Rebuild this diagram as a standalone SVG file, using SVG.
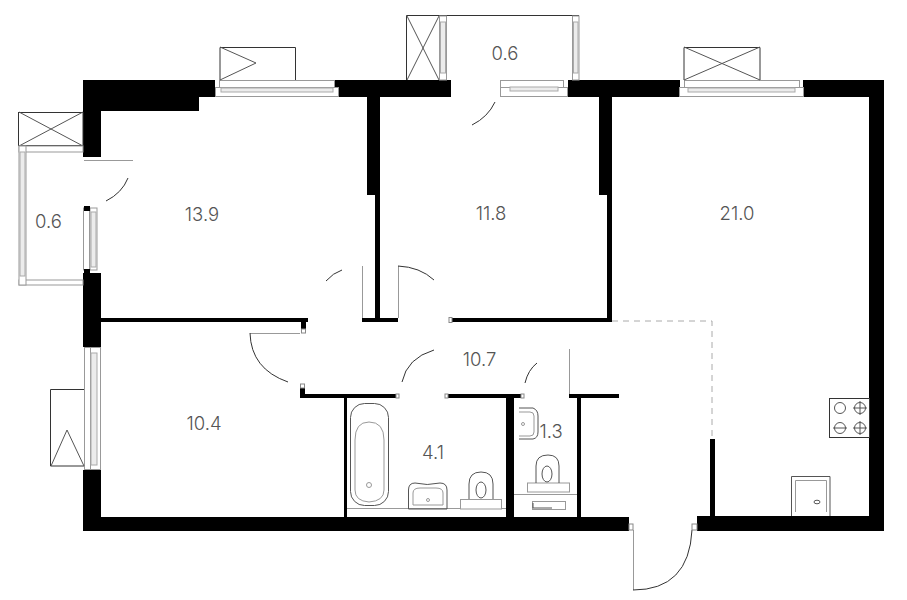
<svg xmlns="http://www.w3.org/2000/svg" width="907" height="600" viewBox="0 0 907 600">
<style>
.w{fill:#000}
.t{font-family:Inter,"Liberation Sans",sans-serif;font-size:18.500px;font-weight:300;fill:#555;text-anchor:middle}
.l{fill:none;stroke:#333;stroke-width:1}
.g{fill:none;stroke:#999;stroke-width:1}
.k{fill:none;stroke:#555;stroke-width:1}
.f{fill:#fff;stroke:#999;stroke-width:1}
.a{fill:none;stroke:#333;stroke-width:1}
.s{fill:#fff;stroke:#888;stroke-width:1}
.h{fill:#ececec;stroke:#aaa;stroke-width:1}
</style>
<rect width="907" height="600" fill="#fff"/>
<g id="walls">
<rect class="w" x="83" y="80" width="132" height="17"/>
<rect class="w" x="334" y="80" width="117" height="17"/>
<rect class="w" x="568" y="80" width="112" height="17"/>
<rect class="w" x="803" y="80" width="81" height="17"/>
<rect class="w" x="869" y="80" width="15" height="450"/>
<rect class="w" x="83" y="80" width="18" height="77"/>
<rect class="w" x="101" y="97" width="98" height="14"/>
<rect class="w" x="83" y="273" width="18" height="74"/>
<rect class="w" x="83" y="470" width="18" height="60"/>
<rect class="w" x="83" y="517" width="546" height="14"/>
<rect class="w" x="697" y="516" width="187" height="15"/>
<rect class="w" x="367" y="97" width="13" height="98"/>
<rect class="w" x="375" y="195" width="5" height="125"/>
<rect class="w" x="599" y="97" width="13" height="98"/>
<rect class="w" x="607" y="195" width="5" height="125"/>
<rect class="w" x="101" y="318" width="207" height="4"/>
<rect class="w" x="301" y="320" width="5" height="10"/>
<rect class="w" x="362" y="318" width="36" height="4"/>
<rect class="w" x="449" y="318" width="163" height="4"/>
<rect class="w" x="300" y="388" width="5" height="10"/>
<rect class="w" x="300" y="394" width="98" height="4"/>
<rect class="w" x="445" y="394" width="78" height="4"/>
<rect class="w" x="569" y="394" width="50" height="4"/>
<rect class="w" x="344" y="398" width="3" height="119"/>
<rect class="w" x="506" y="398" width="8" height="119"/>
<rect class="w" x="577" y="398" width="4" height="119"/>
<rect class="w" x="710" y="439" width="5" height="77"/>
<path d="M612 321H712V439" fill="none" stroke="#aaa" stroke-width="1" stroke-dasharray="6 5"/>
</g>
<g id="windows">
<rect class="f" x="219.500" y="80.500" width="115" height="7"/>
<rect class="f" x="215.500" y="87.500" width="123" height="9"/>
<rect class="h" x="221" y="88" width="112" height="4"/>
<rect class="f" x="500.500" y="80.500" width="63" height="7"/>
<rect class="f" x="500.500" y="87.500" width="67" height="9"/>
<rect class="h" x="510" y="87" width="48" height="4"/>
<rect class="f" x="684.500" y="80.500" width="115" height="7"/>
<rect class="f" x="679.500" y="87.500" width="124" height="9"/>
<rect class="h" x="688" y="88" width="107" height="4"/>
<rect class="f" x="83.500" y="208" width="6" height="62"/>
<rect class="f" x="90" y="208" width="7" height="62"/>
<rect class="h" x="91" y="212" width="5" height="55"/>
<rect class="w" x="84" y="206" width="6" height="5"/>
<rect class="w" x="84" y="269" width="6" height="4"/>
<rect class="f" x="84.500" y="347.500" width="6" height="122"/>
<rect class="f" x="90.500" y="347.500" width="10" height="122"/>
<rect class="h" x="91" y="353" width="6" height="112"/>
</g>
<g id="balcony-left">
<rect class="l" x="18.500" y="112.500" width="64.500" height="33"/>
<path class="k" d="M19 112L83 146M83 112L19 146"/>
<rect class="f" x="19" y="146" width="64" height="6"/>
<rect class="f" x="19" y="280" width="64" height="5"/>
<rect class="f" x="19" y="146" width="7" height="139"/>
<rect class="h" x="20" y="152" width="5" height="124"/>
<text class="t" x="48.500" y="228">0.6</text>
</g>
<g id="balcony-top">
<path class="l" d="M406.500 80V15.500H579M439.500 16V80"/>
<path class="k" d="M407 16L439 80M439 16L407 80"/>
<rect class="f" x="439.500" y="16" width="7" height="64"/>
<rect class="h" x="440.500" y="22" width="5" height="51"/>
<rect class="f" x="572.500" y="16" width="6.500" height="64"/>
<rect class="h" x="573.500" y="22" width="4.500" height="51"/>
<text class="t" x="505" y="60">0.6</text>
</g>
<g id="box-a">
<path class="l" d="M220 80V47.500H295.500V80"/>
<path class="k" d="M220 47L256 63L220 80"/>
</g>
<g id="box-b">
<path class="l" d="M684 80V47.500H760V80"/>
<path class="k" d="M684 47L760 80M760 47L684 80"/>
</g>
<g id="box-c">
<path class="l" d="M84 389.500H50.500V466H84"/>
<path class="k" d="M51 466L67 430L84 466"/>
</g>
<g id="doors">
<path class="g" d="M84 160.500H133"/>
<path class="a" d="M128 178Q122 193 106 201"/>
<path class="a" d="M495 102Q488 117 472 125"/>
<path class="g" d="M362.500 266V318M398.500 266V318"/>
<path class="a" d="M398 266Q420 267 434 280"/>
<path class="a" d="M326 281Q333 273 342 270"/>
<path class="g" d="M250 333.500H300"/>
<path class="a" d="M250 333Q251 369 288 382"/>
<path class="a" d="M402 382Q407 358 434 350"/>
<path class="a" d="M525 383Q528 370 537 363"/>
<path class="g" d="M569.500 349V394"/>
<path class="g" d="M633.500 530V590"/>
<path class="a" d="M633 590Q689 590 692 530"/>
<rect class="s" x="629" y="524" width="4" height="6"/>
<rect class="s" x="692" y="524" width="5" height="6"/>
<rect class="s" x="301.500" y="329" width="4" height="4"/>
<rect class="s" x="300.500" y="384" width="4" height="4"/>
<rect class="s" x="449" y="317.500" width="3" height="5"/>
<rect class="s" x="396" y="394" width="3" height="4"/>
<rect class="s" x="445" y="394" width="3" height="4"/>
<rect class="s" x="521" y="394" width="3" height="4"/>
</g>
<g id="bathroom">
<rect class="k" x="350.500" y="403.500" width="38" height="102" rx="14"/>
<path class="g" d="M355 490V440Q355 422 369 422Q384 422 384 440V490Q384 501 369 502Q355 501 355 490Z"/>
<circle class="g" cx="369" cy="485" r="2.500"/>
<path class="g" d="M347 508.500H506"/>
<path class="k" d="M408.500 509V490Q408.500 483 415 483Q427 486 440 483Q447 483 447 490V509Z"/>
<path class="g" d="M413 505V493Q413 488 420 488H436Q443 488 443 493V505Z"/>
<circle class="g" cx="428" cy="500" r="1.500"/>
<rect class="f" x="460.500" y="499.500" width="41" height="9.500"/>
<path class="k" d="M469 499V484Q469 472 481 472Q493 472 493 484V499"/>
<ellipse class="k" cx="481" cy="490" rx="5" ry="8"/>
<text class="t" x="433" y="459">4.1</text>
</g>
<g id="wc">
<path class="k" d="M519 408H533Q538 410 538 416V432Q538 438 533 439H519"/>
<path class="g" d="M519 412H530Q534 412 534 416V432Q534 436 530 436H519"/>
<circle class="g" cx="523" cy="424" r="1.500"/>
<rect class="f" x="527.500" y="483" width="42" height="9"/>
<path class="k" d="M536 483V466Q536 455 548 455Q559 455 559 466V483"/>
<ellipse class="k" cx="547" cy="474" rx="5" ry="8"/>
<path class="g" d="M514 494.500H577"/>
<rect class="f" x="532.500" y="501.500" width="33" height="8"/>
<path class="k" d="M533 503V508H552"/>
<text class="t" x="551" y="438">1.3</text>
</g>
<g id="kitchen">
<rect class="l" x="829.500" y="398.500" width="40" height="39" stroke="#666"/>
<circle class="k" cx="840" cy="408" r="5.500"/>
<circle class="k" cx="860" cy="408" r="5.500"/>
<circle class="k" cx="840" cy="428" r="5.500"/>
<circle class="k" cx="860" cy="428" r="5.500"/>
<path class="k" d="M853 408H867M860 401V415M833 428H847M853 428H867M860 421V435"/>
<path class="k" d="M791.500 516V476.500H830V516"/>
<path class="g" d="M795.500 512V480.500H826.500V512"/>
<ellipse class="k" cx="817" cy="502" rx="3" ry="1.800"/>
</g>
<g id="labels">
<text class="t" x="202" y="220.500">13.9</text>
<text class="t" x="491" y="220">11.8</text>
<text class="t" x="737" y="220">21.0</text>
<text class="t" x="204" y="430">10.4</text>
<text class="t" x="479.500" y="366">10.7</text>
</g>
</svg>
